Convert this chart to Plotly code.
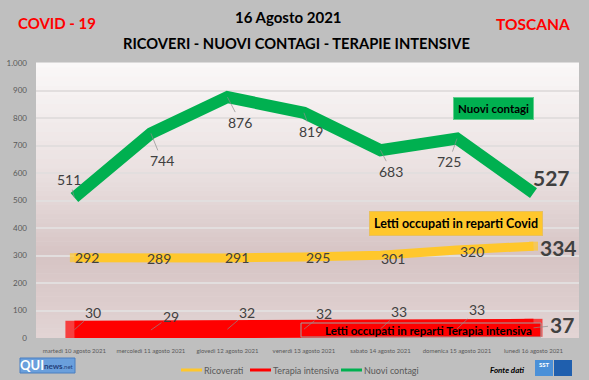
import plotly.graph_objects as go

# ---------------- data ----------------
days = ["martedì 10 agosto 2021", "mercoledì 11 agosto 2021", "giovedì 12 agosto 2021",
        "venerdì 13 agosto 2021", "sabato 14 agosto 2021", "domenica 15 agosto 2021",
        "lunedì 16 agosto 2021"]
nuovi_contagi = [511, 744, 876, 819, 683, 725, 527]
ricoverati = [292, 289, 291, 295, 301, 320, 334]
terapia_intensiva = [30, 29, 32, 32, 33, 33, 37]
y_tickvals = [0, 100, 200, 300, 400, 500, 600, 700, 800, 900, 1000]
y_ticktext = ["0", "100", "200", "300", "400", "500", "600", "700", "800", "900", "1.000"]
series_names = ["Ricoverati", "Terapia intensiva", "Nuovi contagi"]

# ---------------- styles ----------------
W, H = 589, 380
ML, MR, MT, MB = 36, 10, 63, 42
PW, PH = W - ML - MR, H - MT - MB
FONT = "Lato"
GREEN = "#00b050"
YELLOW = "#ffc72c"
RED = "#ff0000"
LABEL = "#404040"

# label offsets (pixels) for data labels
off_green = [(-5, -18), (11, 27), (13, 25), (7, 19), (11, 21), (-8, 23), (18, -16)]
off_yellow = [(13, 0), (8, 0), (10, 0), (14, 1), (13, 3), (15, 1), (25, 1)]
off_red = [(19, -17), (20, -14), (20, -17), (20, -16), (19, -17), (20, -19), (28, -3)]


def px(x):
    return (x - ML) / PW


def py(y):
    return (MT + PH - y) / PH


def note(x, y, text, size, color, **kw):
    d = dict(xref="paper", yref="paper", x=px(x), y=py(y), text=text, showarrow=False,
             xanchor="center", yanchor="middle", font=dict(family=FONT, size=size, color=color))
    d.update(kw)
    return d


fig = go.Figure()

n = len(days)
cap_r = [18] + [0] * (n - 2) + [18]
cap_y = [9] + [0] * (n - 2) + [9]

fig.add_trace(go.Scatter(x=days, y=terapia_intensiva, mode="lines+markers", name=series_names[1],
                         line=dict(color=RED, width=18),
                         marker=dict(symbol="square", size=cap_r, color=RED, line=dict(width=0)),
                         showlegend=False, hoverinfo="skip"))
fig.add_trace(go.Scatter(x=days, y=ricoverati, mode="lines+markers", name=series_names[0],
                         line=dict(color=YELLOW, width=9),
                         marker=dict(symbol="square", size=cap_y, color=YELLOW, line=dict(width=0)),
                         showlegend=False, hoverinfo="skip"))
fig.add_trace(go.Scatter(x=days, y=nuovi_contagi, mode="lines", name=series_names[2],
                         line=dict(color=GREEN, width=12),
                         showlegend=False, hoverinfo="skip"))

annotations = []
# boxes (drawn first so labels sit above)
annotations.append(note(493, 108, "<b>Nuovi contagi</b>", 11.5, "black",
                        bgcolor=GREEN, bordercolor="#5fcf8c", borderwidth=1, borderpad=4))
annotations.append(note(456, 223, "<b>Letti occupati in reparti Covid</b>", 12.5, "black",
                        bgcolor=YELLOW, bordercolor="#e8c060", borderwidth=1, borderpad=4))
annotations.append(note(428, 330, "<b>Letti occupati in reparti Terapia intensiva</b>", 11.5, "black"))

# data labels
for i in range(n):
    dx, dy = off_green[i]
    last = i == n - 1
    if last:
        annotations.append(dict(x=days[i], y=nuovi_contagi[i], text="<b>%d</b>" % nuovi_contagi[i],
                                showarrow=False, xshift=dx, yshift=-dy,
                                font=dict(family=FONT, size=21, color=LABEL)))
    else:
        annotations.append(dict(x=days[i], y=nuovi_contagi[i], text=str(nuovi_contagi[i]),
                                showarrow=True, ax=dx, ay=dy,
                                arrowhead=0, arrowwidth=0.7, arrowcolor="#8c8c8c",
                                font=dict(family=FONT, size=14, color=LABEL)))
for i in range(n):
    dx, dy = off_yellow[i]
    last = i == n - 1
    annotations.append(dict(x=days[i], y=ricoverati[i],
                            text=("<b>%d</b>" % ricoverati[i]) if last else str(ricoverati[i]),
                            showarrow=False, xshift=dx, yshift=-dy,
                            font=dict(family=FONT, size=21 if last else 14, color=LABEL)))
for i in range(n):
    dx, dy = off_red[i]
    last = i == n - 1
    annotations.append(dict(x=days[i], y=terapia_intensiva[i],
                            text=("<b>%d</b>" % terapia_intensiva[i]) if last else str(terapia_intensiva[i]),
                            showarrow=True, ax=dx, ay=dy,
                            arrowhead=0, arrowwidth=0.7, arrowcolor="#8c8c8c",
                            font=dict(family=FONT, size=21 if last else 14, color=LABEL)))

# titles and footer
annotations += [
    note(57, 23, "<b>COVID - 19</b>", 15, RED),
    note(533, 24, "<b>TOSCANA</b>", 15.5, RED),
    note(288, 17, "<b>16 Agosto 2021</b>", 15, "black"),
    note(296, 43, "<b>RICOVERI - NUOVI CONTAGI - TERAPIE INTENSIVE</b>", 14.7, "black"),
    note(507, 370, "<b><i>Fonte dati</i></b>", 8, "black"),
    note(32, 365, "<b>QUI</b>", 13, "white"),
    note(59, 366, "<b>news</b><span style='font-size:6px'>.net</span>", 8, "#24407a"),
    note(544, 364, "<b>SST</b>", 6, "white"),
]

shapes = []
# gradient background of plot area
stops = [(0.0, (226, 212, 212)), (0.3, (214, 196, 196)), (0.6, (234, 224, 224)), (1.0, (250, 248, 248))]
NB = 60
for k in range(NB):
    t = (k + 0.5) / NB
    for j in range(len(stops) - 1):
        if stops[j][0] <= t <= stops[j + 1][0]:
            a, ca = stops[j]
            b, cb = stops[j + 1]
            f = (t - a) / (b - a)
            c = tuple(int(round(ca[m] + (cb[m] - ca[m]) * f)) for m in range(3))
            break
    shapes.append(dict(type="rect", xref="paper", yref="paper", x0=0, x1=1, y0=k / NB, y1=(k + 1) / NB + 0.002,
                       fillcolor="rgb(%d,%d,%d)" % c, line=dict(width=0), layer="below"))

# terapia intensiva callout box
shapes.append(dict(type="rect", xref="paper", yref="paper", x0=px(301), x1=px(541), y0=py(337), y1=py(323),
                   fillcolor=RED, line=dict(color="#a0a0a0", width=1)))

# manual legend
legend_items = [(series_names[0], YELLOW, 181), (series_names[1], RED, 250), (series_names[2], GREEN, 341)]
for name, col, x0 in legend_items:
    shapes.append(dict(type="line", xref="paper", yref="paper", x0=px(x0), x1=px(x0 + 21),
                       y0=py(370), y1=py(370), line=dict(color=col, width=3)))
    annotations.append(note(x0 + 21, 370, name, 9, "#595959", xanchor="left"))

# logo shapes
shapes.append(dict(type="rect", xref="paper", yref="paper", x0=px(20), x1=px(75), y0=py(373), y1=py(358),
                   fillcolor="#6a9fdc", line=dict(color="#4a7fc0", width=1)))
shapes.append(dict(type="rect", xref="paper", yref="paper", x0=px(535), x1=px(553), y0=py(376), y1=py(360),
                   fillcolor="#4a90d8", line=dict(width=0)))
shapes.append(dict(type="rect", xref="paper", yref="paper", x0=px(554), x1=px(572), y0=py(376), y1=py(360),
                   fillcolor="#1f5fae", line=dict(width=0)))

fig.update_layout(
    width=W, height=H, autosize=False,
    margin=dict(l=ML, r=MR, t=MT, b=MB, autoexpand=False),
    paper_bgcolor="#bfbfbf",
    plot_bgcolor="#f0eaea",
    font=dict(family=FONT, color="#595959"),
    showlegend=False,
    annotations=annotations,
    shapes=shapes,
    xaxis=dict(type="category", showgrid=False, zeroline=False, showline=False,
               tickfont=dict(family=FONT, size=6, color="#595959"), ticks="", ticklabelstandoff=8,
               fixedrange=True),
    yaxis=dict(range=[0, 1000], tickvals=y_tickvals, ticktext=y_ticktext, showgrid=True,
               gridcolor="rgb(226,222,222)", gridwidth=1.5, zeroline=False, showline=False,
               tickfont=dict(family=FONT, size=8, color="#595959"), ticks="", ticklabelstandoff=8,
               fixedrange=True),
)

fig.write_html("out.html", config={"responsive": False, "displayModeBar": False})

# remove the browser's default page margin so the figure sits at the window origin
with open("out.html", encoding="utf-8") as fh:
    html = fh.read()
html = html.replace("<head>", "<head><style>html,body{margin:0;padding:0;overflow:hidden;}</style>", 1)
with open("out.html", "w", encoding="utf-8") as fh:
    fh.write(html)
